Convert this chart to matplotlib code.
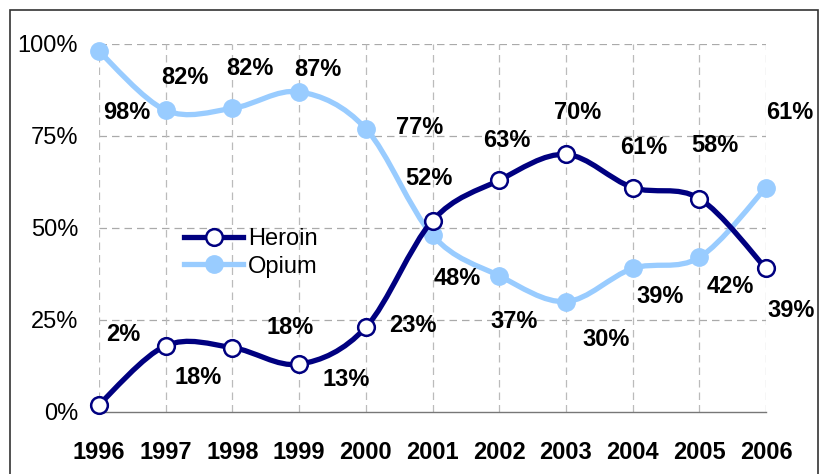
import matplotlib
matplotlib.use('Agg')
import matplotlib.pyplot as plt
from matplotlib.path import Path
from matplotlib.patches import PathPatch, Rectangle
from matplotlib.lines import Line2D
import numpy as np

plt.rcParams['font.family'] = ['Liberation Sans', 'DejaVu Sans']

years = [1996, 1997, 1998, 1999, 2000, 2001, 2002, 2003, 2004, 2005, 2006]
heroin = [2, 18, 17.5, 13, 23, 52, 63, 70, 61, 58, 39]
opium = [98, 82, 82.5, 87, 77, 48, 37, 30, 39, 42, 61]
heroin_labels = ['2%', '18%', '18%', '13%', '23%', '52%', '63%', '70%', '61%', '58%', '39%']
opium_labels = ['98%', '82%', '82%', '87%', '77%', '48%', '37%', '30%', '39%', '42%', '61%']
y_ticks = [0, 25, 50, 75, 100]
y_tick_labels = ['0%', '25%', '50%', '75%', '100%']

# label offsets in pixels (dx right, dy up)
heroin_off = [(24, 70), (32, -32), (58, 20), (47, -15), (47, 2), (-4, 42),
              (8, 40), (12, 42), (11, 40), (16, 53), (25, -42)]
opium_off = [(28, -61), (19, 33), (18, 40), (19, 22), (54, 1), (25, -43),
             (15, -46), (40, -38), (28, -28), (31, -29), (24, 75)]

HEROIN_C = '#000080'
OPIUM_C = '#99CCFF'


def smooth_path(xs, ys):
    """Catmull-Rom style smoothing turned into cubic Bezier segments."""
    pts = np.column_stack([xs, ys]).astype(float)
    n = len(pts)
    verts = [pts[0]]
    codes = [Path.MOVETO]
    for i in range(n - 1):
        p0 = pts[i - 1] if i > 0 else pts[i]
        p1, p2 = pts[i], pts[i + 1]
        p3 = pts[i + 2] if i + 2 < n else pts[i + 1]
        c1 = p1 + (p2 - p0) / 6.0
        c2 = p2 - (p3 - p1) / 6.0
        verts += [c1, c2, p2]
        codes += [Path.CURVE4] * 3
    return Path(verts, codes)


fig = plt.figure(figsize=(8.2, 4.74), dpi=100)
ax = fig.add_axes([99 / 820, 62 / 474, 667 / 820, 368 / 474])

# outer frame
fig.patches.append(Rectangle((10 / 820, -0.2), 808 / 820, (464 / 474) + 0.2,
                             transform=fig.transFigure, fill=False,
                             edgecolor='#333333', linewidth=1.2))

ax.set_xlim(1996, 2006)
ax.set_ylim(0, 100)

for yv in y_ticks[1:]:
    ax.axhline(yv, color='#aaaaaa', lw=0.9, ls=(0, (6, 4)), zorder=1)
for xv in years:
    ax.axvline(xv, color='#bbbbbb', lw=0.9, ls=(0, (6, 4)), zorder=1)

for s in ['top', 'right', 'left']:
    ax.spines[s].set_visible(False)
ax.spines['bottom'].set_color('#777777')
ax.spines['bottom'].set_linewidth(1.0)

ax.set_xticks(years)
ax.set_xticklabels([str(y) for y in years], fontsize=17, fontweight='bold')
ax.set_yticks(y_ticks)
ax.set_yticklabels(y_tick_labels, fontsize=17)
ax.tick_params(axis='x', length=0, pad=21)
ax.tick_params(axis='y', length=0, pad=15)

ax.add_patch(PathPatch(smooth_path(years, opium), fill=False, edgecolor=OPIUM_C,
                       lw=3.8, capstyle='round', joinstyle='round', zorder=3))
ax.plot(years, opium, ls='none', marker='o', ms=12.5, mfc=OPIUM_C, mec=OPIUM_C,
        zorder=4, clip_on=False)
ax.add_patch(PathPatch(smooth_path(years, heroin), fill=False, edgecolor=HEROIN_C,
                       lw=3.8, capstyle='round', joinstyle='round', zorder=5))
ax.plot(years, heroin, ls='none', marker='o', ms=12, mfc='white', mec=HEROIN_C,
        mew=1.8, zorder=6, clip_on=False)

for x, y, lab, off in zip(years, heroin, heroin_labels, heroin_off):
    ax.annotate(lab, (x, y), xytext=off, textcoords='offset pixels',
                ha='center', va='center', fontsize=17, fontweight='bold',
                annotation_clip=False, zorder=7)
for x, y, lab, off in zip(years, opium, opium_labels, opium_off):
    ax.annotate(lab, (x, y), xytext=off, textcoords='offset pixels',
                ha='center', va='center', fontsize=17, fontweight='bold',
                annotation_clip=False, zorder=7)

handles = [
    Line2D([], [], color=HEROIN_C, lw=3.8, marker='o', ms=12, mfc='white',
           mec=HEROIN_C, mew=1.8),
    Line2D([], [], color=OPIUM_C, lw=3.8, marker='o', ms=12.5, mfc=OPIUM_C,
           mec=OPIUM_C),
]
fig.legend(handles, ['Heroin', 'Opium'], loc='upper left',
           bbox_to_anchor=(184 / 820, (474 - 228) / 474), frameon=False,
           fontsize=17, handlelength=2.5, handletextpad=0.2, labelspacing=0.24,
           borderpad=0, borderaxespad=0)

fig.savefig('out.png', dpi=100)
